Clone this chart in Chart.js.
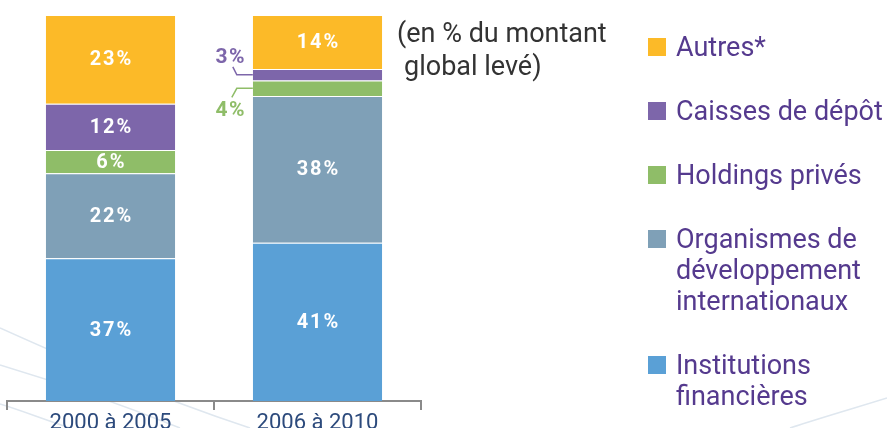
<!DOCTYPE html>
<html>
<head>
<meta charset="utf-8">
<script src="https://cdn.jsdelivr.net/npm/chart.js@4/dist/chart.umd.min.js"></script>
<style>
html,body{margin:0;padding:0;background:#fff;}
#wrap{width:887px;height:428px;position:relative;}
</style>
</head>
<body>
<div id="wrap"><canvas id="c" width="887" height="428"></canvas></div>
<script>
// ---- data ----
const categories = ['2000 à 2005', '2006 à 2010'];
const institutions = [37, 41];
const organismes = [22, 38];
const holdings = [6, 4];
const caisses = [12, 3];
const autres = [23, 14];
const seriesNames = ['Institutions\nfinancières', 'Organismes de\ndéveloppement\ninternationaux', 'Holdings privés', 'Caisses de dépôt', 'Autres*'];
const note = ['(en % du montant', 'global levé)'];

const colors = ['#5aa0d6', '#7fa0b7', '#8fbd68', '#7d66aa', '#fcba28'];
const seriesData = [institutions, organismes, holdings, caisses, autres];

const FONT = 'Roboto';

const bgPlugin = {
  id: 'bg',
  beforeDraw(chart) {
    const ctx = chart.ctx;
    ctx.save();
    ctx.fillStyle = '#fff';
    ctx.fillRect(0, 0, chart.width, chart.height);
    ctx.strokeStyle = '#dfe7ef';
    ctx.lineWidth = 1.5;
    const curves = [
      [[0, 328], [60, 355], [150, 395], [250, 428]],
      [[0, 365], [50, 380], [110, 400], [180, 428]],
      [[0, 404], [20, 410], [40, 418], [70, 428]],
      [[790, 428], [820, 418], [855, 408], [887, 398]]
    ];
    curves.forEach(p => {
      ctx.beginPath();
      ctx.moveTo(p[0][0], p[0][1]);
      ctx.bezierCurveTo(p[1][0], p[1][1], p[2][0], p[2][1], p[3][0], p[3][1]);
      ctx.stroke();
    });
    ctx.restore();
  }
};

const labelPlugin = {
  id: 'labels',
  afterDatasetsDraw(chart) {
    const ctx = chart.ctx;
    ctx.save();
    const n = chart.data.labels.length;
    for (let i = 0; i < n; i++) {
      const small = [];
      chart.data.datasets.forEach((ds, di) => {
        const el = chart.getDatasetMeta(di).data[i];
        const v = ds.data[i];
        const yMid = (el.y + el.base) / 2;
        if (v >= 5) {
          ctx.fillStyle = '#fff';
          ctx.font = 'bold 20px ' + FONT;
          ctx.letterSpacing = '2px';
          ctx.textAlign = 'center';
          ctx.textBaseline = 'middle';
          ctx.fillText(v + '%', el.x + 1, yMid + 1);
        } else {
          small.push({ el, v, yMid, color: ds.backgroundColor });
        }
      });
      small.sort((a, b) => a.yMid - b.yMid);
      small.forEach((s, k) => {
        const left = s.el.x - s.el.width / 2;
        const up = (k === 0 && small.length > 1);
        ctx.strokeStyle = s.color;
        ctx.lineWidth = 1.5;
        ctx.beginPath();
        ctx.moveTo(left, s.yMid);
        ctx.lineTo(left - 16, s.yMid);
        if (up) ctx.lineTo(left - 20, s.yMid - 8);
        else ctx.lineTo(left - 21, s.yMid + 9);
        ctx.stroke();
        ctx.fillStyle = s.color;
        ctx.font = 'bold 21px ' + FONT;
        ctx.letterSpacing = '1.5px';
        ctx.textAlign = 'center';
        ctx.textBaseline = 'alphabetic';
        ctx.fillText(s.v + '%', left - 22, up ? s.yMid - 12 : s.yMid + 28);
      });
    }
    ctx.restore();
  }
};

const legendPlugin = {
  id: 'sideLegend',
  afterDraw(chart) {
    const ctx = chart.ctx;
    ctx.save();
    ctx.letterSpacing = '0px';
    // note
    ctx.fillStyle = '#333333';
    ctx.font = '27px ' + FONT;
    ctx.textAlign = 'left';
    ctx.textBaseline = 'alphabetic';
    ctx.fillText(note[0], 397, 42);
    ctx.fillText(note[1], 404, 75);
    // legend (top = last dataset)
    const ds = chart.data.datasets.slice().reverse();
    let y = 56;
    ds.forEach(d => {
      ctx.fillStyle = d.backgroundColor;
      ctx.fillRect(648, y - 18, 18, 18);
      ctx.fillStyle = '#553a8e';
      ctx.font = '27px ' + FONT;
      const lines = d.label.split('\n');
      lines.forEach((ln, li) => {
        ctx.fillText(ln, 676, y + li * 31);
      });
      y += (lines.length - 1) * 31 + 64;
    });
    ctx.restore();
  }
};

new Chart(document.getElementById('c'), {
  type: 'bar',
  data: {
    labels: categories,
    datasets: seriesData.map((d, i) => ({
      label: seriesNames[i],
      data: d,
      backgroundColor: colors[i],
      borderColor: 'rgba(255,255,255,0.55)',
      borderWidth: { top: 1, bottom: 0, left: 0, right: 0 },
      borderSkipped: false,
      categoryPercentage: 1,
      barPercentage: 0.625
    }))
  },
  options: {
    responsive: false,
    animation: false,
    devicePixelRatio: 1,
    layout: { padding: { left: 7, right: 466, top: 15, bottom: 0 } },
    plugins: { legend: { display: false }, tooltip: { enabled: false } },
    scales: {
      x: {
        stacked: true,
        offset: true,
        grid: { display: true, offset: true, drawOnChartArea: false, drawTicks: true, tickLength: 9, color: '#8a8a8a', lineWidth: 2 },
        border: { display: true, color: '#8a8a8a', width: 2 },
        ticks: { color: '#2c4a7c', font: { family: FONT, size: 22 }, padding: 0, maxRotation: 0 },
        afterFit(scale) { scale.height = 27; }
      },
      y: { stacked: true, min: 0, max: 100, display: false }
    }
  },
  plugins: [bgPlugin, labelPlugin, legendPlugin]
});
</script>
</body>
</html>
